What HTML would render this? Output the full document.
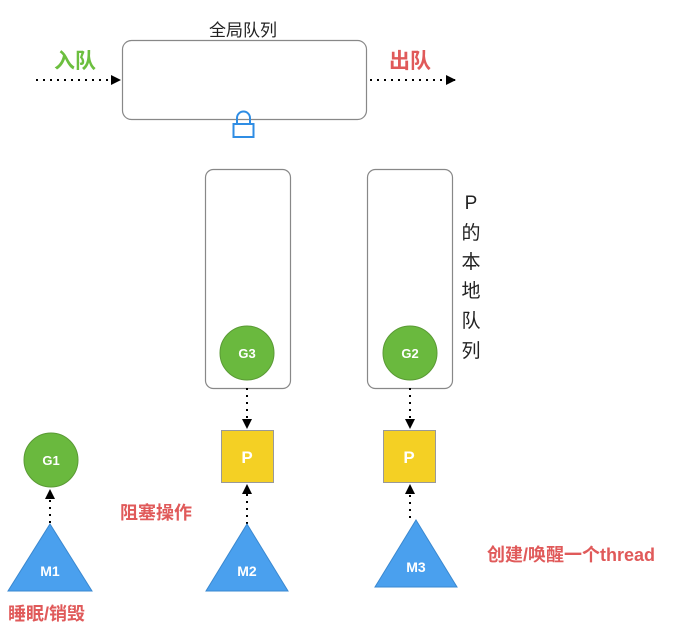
<!DOCTYPE html>
<html><head><meta charset="utf-8"><style>
body{margin:0;background:#fff;}
svg text{font-family:"Liberation Sans","Noto Sans CJK SC",sans-serif;}
</style></head><body>
<svg width="673" height="629" viewBox="0 0 673 629" xmlns="http://www.w3.org/2000/svg">
<defs>
<marker id="ar" markerWidth="10" markerHeight="10" refX="9" refY="5" orient="auto" markerUnits="userSpaceOnUse"><path d="M0,0 L10,5 L0,10 z" fill="#000"/></marker>
</defs>
<!-- global queue -->
<text x="243" y="36" font-size="17" text-anchor="middle" fill="#222">全局队列</text>
<rect x="122.5" y="40.5" width="244" height="79" rx="9" fill="#fff" stroke="#888" stroke-width="1.2"/>
<text x="75" y="68" font-size="21" font-weight="bold" text-anchor="middle" fill="#6cbf3f">入队</text>
<text x="410" y="68" font-size="21" font-weight="bold" text-anchor="middle" fill="#e05a5a">出队</text>
<line x1="36" y1="80" x2="120" y2="80" stroke="#000" stroke-width="2" stroke-dasharray="2,5" marker-end="url(#ar)"/>
<line x1="370" y1="80" x2="455" y2="80" stroke="#000" stroke-width="2" stroke-dasharray="2,5" marker-end="url(#ar)"/>
<!-- lock -->
<path d="M237,124 v-6 a6.5,6.5 0 0 1 13,0 v6" fill="none" stroke="#2f8de4" stroke-width="2"/>
<rect x="233.5" y="124" width="20" height="13" fill="#fff" stroke="#2f8de4" stroke-width="2"/>
<!-- local queues -->
<rect x="205.5" y="169.5" width="85" height="219" rx="8" fill="#fff" stroke="#888" stroke-width="1.2"/>
<rect x="367.5" y="169.5" width="85" height="219" rx="8" fill="#fff" stroke="#888" stroke-width="1.2"/>
<g font-size="19" fill="#222" text-anchor="middle">
<text x="471" y="209">P</text><text x="471" y="239">的</text><text x="471" y="268">本</text><text x="471" y="297">地</text><text x="471" y="327">队</text><text x="471" y="357">列</text>
</g>
<circle cx="247" cy="353" r="27" fill="#6ab93e" stroke="#5a9a35"/>
<text x="247" y="358" font-size="13" font-weight="bold" fill="#fff" text-anchor="middle">G3</text>
<circle cx="410" cy="353" r="27" fill="#6ab93e" stroke="#5a9a35"/>
<text x="410" y="358" font-size="13" font-weight="bold" fill="#fff" text-anchor="middle">G2</text>
<line x1="247" y1="388" x2="247" y2="428" stroke="#000" stroke-width="2" stroke-dasharray="2,5" marker-end="url(#ar)"/>
<line x1="410" y1="388" x2="410" y2="428" stroke="#000" stroke-width="2" stroke-dasharray="2,5" marker-end="url(#ar)"/>
<!-- P -->
<rect x="221.5" y="430.5" width="52" height="52" fill="#f4d024" stroke="#999"/>
<text x="247" y="463" font-size="17" font-weight="bold" fill="#fff" text-anchor="middle">P</text>
<rect x="383.5" y="430.5" width="52" height="52" fill="#f4d024" stroke="#999"/>
<text x="409" y="463" font-size="17" font-weight="bold" fill="#fff" text-anchor="middle">P</text>
<line x1="247" y1="524" x2="247" y2="485" stroke="#000" stroke-width="2" stroke-dasharray="2,5" marker-end="url(#ar)"/>
<line x1="410" y1="518" x2="410" y2="485" stroke="#000" stroke-width="2" stroke-dasharray="2,5" marker-end="url(#ar)"/>
<!-- G1 -->
<circle cx="51" cy="460" r="27" fill="#6ab93e" stroke="#5a9a35"/>
<text x="51" y="465" font-size="13" font-weight="bold" fill="#fff" text-anchor="middle">G1</text>
<line x1="50" y1="523" x2="50" y2="490" stroke="#000" stroke-width="2" stroke-dasharray="2,5" marker-end="url(#ar)"/>
<!-- Ms -->
<polygon points="50,524 92,591 8,591" fill="#4aa0ee" stroke="#3a88d0"/>
<text x="50" y="576" font-size="14" font-weight="bold" fill="#fff" text-anchor="middle">M1</text>
<polygon points="247,524 288,591 206,591" fill="#4aa0ee" stroke="#3a88d0"/>
<text x="247" y="576" font-size="14" font-weight="bold" fill="#fff" text-anchor="middle">M2</text>
<polygon points="416,520 457,587 375,587" fill="#4aa0ee" stroke="#3a88d0"/>
<text x="416" y="572" font-size="14" font-weight="bold" fill="#fff" text-anchor="middle">M3</text>
<!-- labels -->
<text x="120" y="519" font-size="18" font-weight="bold" fill="#e05a5a">阻塞操作</text>
<text x="8" y="620" font-size="18" font-weight="bold" fill="#e05a5a">睡眠/销毁</text>
<text x="487" y="561" font-size="18" font-weight="bold" fill="#e05a5a">创建/唤醒一个thread</text>
</svg>
</body></html>
